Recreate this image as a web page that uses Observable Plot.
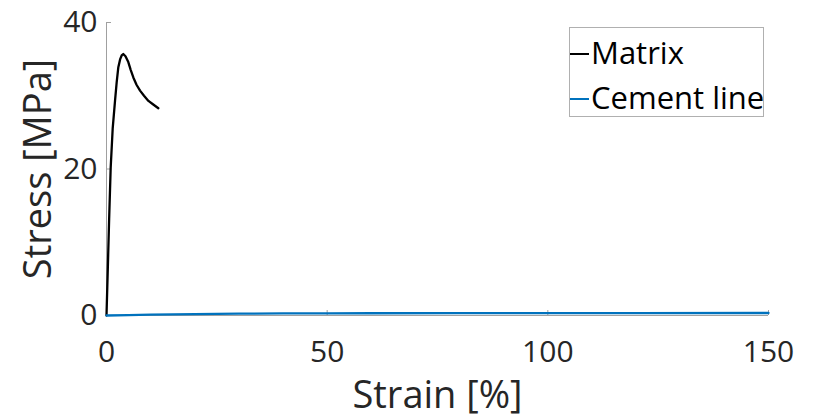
<!DOCTYPE html>
<html>
<head>
<meta charset="utf-8">
<script src="https://cdn.jsdelivr.net/npm/d3@7"></script>
<script src="https://cdn.jsdelivr.net/npm/@observablehq/plot@0.6"></script>
<style>
  html, body { margin: 0; padding: 0; background: #fff; }
  #wrap { position: relative; width: 816px; height: 420px; font-family: "Open Sans", "Noto Sans", sans-serif; }
  #legend { position: absolute; left: 569px; top: 27px; width: 195px; height: 90px; border: 1px solid #b0b0b0; box-sizing: border-box; background: #fff; }
  .item { position: absolute; left: 0; display: flex; align-items: center; font-size: 31px; color: #000; line-height: 1; white-space: nowrap; }
  .sw { display: inline-block; width: 19px; height: 2px; margin-right: 2px; margin-top: 2px; }
</style>
</head>
<body>
<div id="wrap"><div id="chart"></div><div id="legend"></div></div>
<script>
const seriesNames = ["Matrix", "Cement line"];
const seriesColors = ["#000000", "#0072BD"];

const matrixStrain = [0, 0.3, 0.6, 0.95, 1.4, 1.93, 2.3, 2.68, 3.1, 3.44, 3.8, 4.3, 4.94, 5.5, 6.08, 6.8, 7.6, 8.5, 9.5, 10.6, 11.75];
const matrixStress = [0, 6.5, 13.2, 20.2, 25.5, 29.3, 31.8, 33.9, 35.0, 35.5, 35.7, 35.4, 34.6, 33.5, 32.5, 31.5, 30.7, 30.0, 29.3, 28.8, 28.3];

const cementStrain = [0, 5, 10, 20, 30, 40, 50, 60, 80, 100, 120, 150];
const cementStress = [0, 0.06, 0.12, 0.2, 0.25, 0.28, 0.3, 0.31, 0.32, 0.33, 0.33, 0.34];

const xTicks = [0, 50, 100, 150];
const yTicks = [0, 20, 40];

const data = [
  ...matrixStrain.map((s, i) => ({series: seriesNames[0], strain: s, stress: matrixStress[i]})),
  ...cementStrain.map((s, i) => ({series: seriesNames[1], strain: s, stress: cementStress[i]}))
];

const chart = Plot.plot({
  width: 816,
  height: 420,
  marginLeft: 106,
  marginRight: 48,
  marginTop: 22,
  marginBottom: 105,
  style: { fontFamily: "'Open Sans', 'Noto Sans', sans-serif", color: "#262626", background: "#fff", overflow: "visible" },
  x: { domain: [0, 150] },
  y: { domain: [0, 40] },
  color: { domain: seriesNames, range: seriesColors },
  marks: [
    Plot.ruleY([0], { stroke: "#a0a0a0", strokeWidth: 1 }),
    Plot.ruleX([0], { stroke: "#a0a0a0", strokeWidth: 1 }),
    Plot.axisX({ ticks: xTicks, tickSize: -5, stroke: "#a0a0a0", tickPadding: 30, fontSize: 30, label: "Strain [%]", labelAnchor: "center", labelArrow: "none", labelOffset: 92, fill: "#262626" }),
    Plot.axisY({ ticks: yTicks, tickSize: -5, stroke: "#a0a0a0", tickPadding: 14, fontSize: 30, label: "Stress [MPa]", labelAnchor: "center", labelArrow: "none", labelOffset: 82, fill: "#262626" }),
    Plot.line(data, { x: "strain", y: "stress", z: "series", stroke: "series", strokeWidth: 2.3 })
  ]
});
document.getElementById("chart").appendChild(chart);

d3.select(chart).selectAll("g[aria-label='x-axis label'] text, g[aria-label='y-axis label'] text").attr("font-size", 38);

const legend = document.getElementById("legend");
seriesNames.forEach((n, i) => {
  const it = document.createElement("div");
  it.className = "item";
  it.style.top = (i === 0 ? 9 : 54) + "px";
  const sw = document.createElement("span");
  sw.className = "sw";
  sw.style.background = seriesColors[i];
  const tx = document.createElement("span");
  tx.textContent = n;
  it.appendChild(sw); it.appendChild(tx);
  legend.appendChild(it);
});
</script>
</body>
</html>
